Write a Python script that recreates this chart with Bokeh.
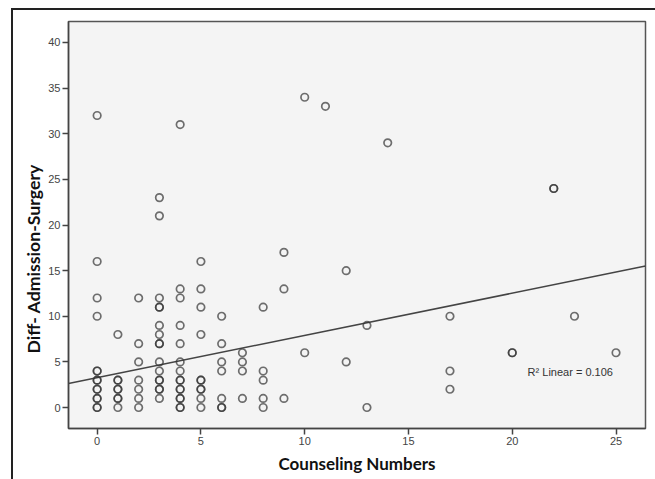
from bokeh.plotting import figure
from bokeh.models import ColumnDataSource, Label, FixedTicker, Range1d, InlineStyleSheet
from bokeh.embed import file_html
from bokeh.resources import INLINE

# ---- data ----
counseling_numbers = [
    0, 0, 0, 0, 0, 0, 0, 0, 0, 0, 0, 0, 0, 0,
    1, 1, 1, 1, 1, 1, 1, 1,
    2, 2, 2, 2, 2, 2, 2,
    3, 3, 3, 3, 3, 3, 3, 3, 3, 3, 3, 3, 3, 3, 3, 3,
    4, 4, 4, 4, 4, 4, 4, 4, 4, 4, 4, 4, 4, 4, 4,
    5, 5, 5, 5, 5, 5, 5, 5, 5, 5,
    6, 6, 6, 6, 6, 6, 6,
    7, 7, 7, 7,
    8, 8, 8, 8, 8,
    9, 9, 9,
    10, 10,
    11,
    12, 12,
    13, 13,
    14,
    17, 17, 17,
    20, 20,
    22, 22,
    23,
    25,
]
diff_admission_surgery = [
    32, 16, 12, 10, 4, 4, 3, 3, 2, 2, 1, 1, 0, 0,
    8, 3, 3, 2, 2, 1, 1, 0,
    12, 7, 5, 3, 2, 1, 0,
    23, 21, 12, 11, 11, 9, 8, 7, 7, 5, 4, 3, 3, 2, 2, 1,
    31, 13, 12, 9, 7, 5, 4, 3, 3, 2, 2, 1, 1, 0, 0,
    16, 13, 11, 8, 3, 3, 2, 2, 1, 0,
    10, 7, 5, 4, 1, 0, 0,
    6, 5, 4, 1,
    11, 4, 3, 1, 0,
    17, 13, 1,
    34, 6,
    33,
    15, 5,
    9, 0,
    29,
    10, 4, 2,
    6, 6,
    24, 24,
    10,
    6,
]
fit_intercept = 3.27
fit_slope = 0.463
r2_text = "R\u00b2 Linear = 0.106"
r2_pos = (20.74, 3.9)
x_title = "Counseling Numbers"
y_title = "Diff- Admission-Surgery"
x_ticks = [0, 5, 10, 15, 20, 25]
y_ticks = [0, 5, 10, 15, 20, 25, 30, 35, 40]
x_lo, x_hi = -1.38, 26.42
y_lo, y_hi = -2.3, 42.3

frame_css = InlineStyleSheet(css="""
:host { position: relative; }
:host::after {
  content: ''; position: absolute; left: 11px; top: 8px; right: 0; bottom: 0;
  border-left: 2px solid #222; border-top: 2px solid #222;
  pointer-events: none; box-sizing: border-box;
}
""")

p = figure(width=655, height=479, output_backend="svg", toolbar_location=None,
           x_range=Range1d(x_lo, x_hi), y_range=Range1d(y_lo, y_hi),
           min_border_left=68, min_border_top=21, min_border_right=10, min_border_bottom=51,
           title=y_title, title_location="left")
p.stylesheets = [frame_css]

# y-axis title: drawn as the left-side title so that it can sit below the axis centre
p.title.align = "left"
p.title.offset = 75
p.title.text_font = "Lato"
p.title.text_font_style = "bold"
p.title.text_font_size = "17.7px"
p.title.text_color = "#111111"
p.title.standoff = 4

p.background_fill_color = "#f4f4f4"
p.border_fill_color = "white"
p.outline_line_color = "#555555"
p.outline_line_width = 1.5
p.xgrid.visible = False
p.ygrid.visible = False

# regression line
p.line([x_lo, x_hi], [fit_intercept + fit_slope * x_lo, fit_intercept + fit_slope * x_hi],
       line_color="#444444", line_width=1.5)

src = ColumnDataSource(dict(x=counseling_numbers, y=diff_admission_surgery))
p.scatter("x", "y", source=src, marker="circle", size=7.5, fill_alpha=0,
          line_color="#333333", line_alpha=0.7, line_width=1.7)

p.add_layout(Label(x=r2_pos[0], y=r2_pos[1], text=r2_text, text_font="Liberation Sans",
                   text_font_size="11px", text_color="#333333", text_baseline="middle"))

for ax in (p.xaxis, p.yaxis):
    ax.axis_line_color = "#444444"
    ax.axis_line_width = 1.5
    ax.major_tick_line_color = "#444444"
    ax.major_tick_line_width = 1.5
    ax.major_tick_out = 6
    ax.major_tick_in = 0
    ax.minor_tick_line_color = None
    ax.major_label_text_font = "Liberation Sans"
    ax.major_label_text_font_size = "11px"
    ax.major_label_text_color = "#444444"
    ax.major_label_standoff = 2
    ax.axis_label_text_font = "Lato"
    ax.axis_label_text_font_style = "bold"
    ax.axis_label_text_color = "#111111"

p.xaxis.ticker = FixedTicker(ticks=x_ticks)
p.yaxis.ticker = FixedTicker(ticks=y_ticks)
p.xaxis.axis_label = x_title
p.xaxis.axis_label_text_font_size = "17px"
p.xaxis.axis_label_standoff = 5

open("out.html", "w").write(file_html(p, INLINE))
